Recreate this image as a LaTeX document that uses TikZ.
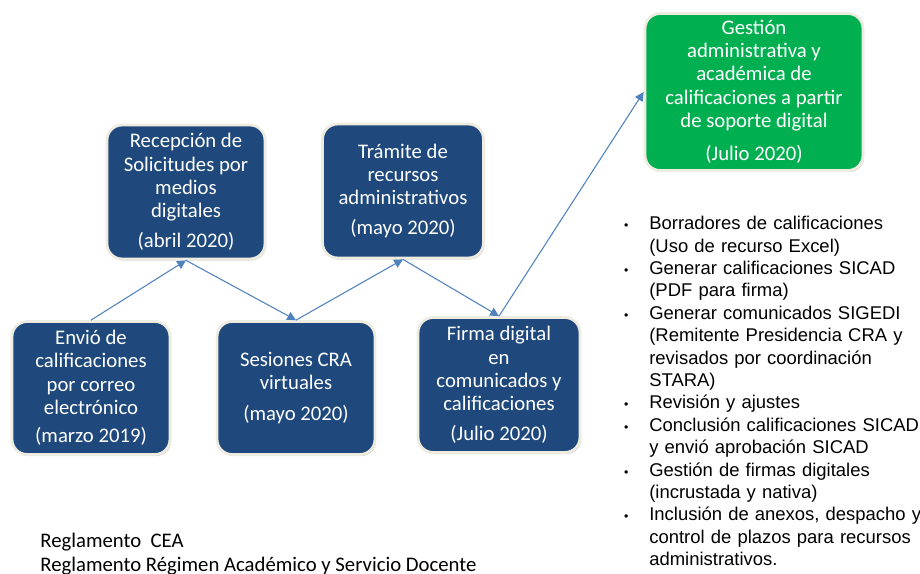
\documentclass[tikz,border=0pt]{standalone}
\usepackage{fontspec}
\setmainfont{Carlito}
\newfontfamily\listfont{Liberation Sans}
\usetikzlibrary{arrows.meta,shadows}
\definecolor{boxblue}{RGB}{31,73,125}
\definecolor{boxgreen}{RGB}{0,176,80}
\definecolor{rimcream}{RGB}{238,236,225}
\definecolor{linkblue}{RGB}{79,129,189}
\begin{document}
\begin{tikzpicture}[x=0.02cm,y=-0.02cm,
  stage/.style={rectangle,rounded corners=0.3cm,fill=boxblue,draw=rimcream,line width=1.6pt,
    text=white,align=center,font=\fontsize{11.8}{13.2}\selectfont,inner sep=2pt,
    drop shadow={shadow xshift=0.7pt,shadow yshift=-0.9pt,opacity=0.35}},
  link/.style={draw=linkblue,line width=0.6pt,-{Triangle[width=5pt,length=5pt]}}]
  \useasboundingbox (0,0) rectangle (920,574);
  % timeline boxes
  \node[stage,minimum width=3.16cm,minimum height=2.66cm] (envio) at (91,388)
    {Envió de\\calificaciones\\por correo\\electrónico\\[3pt](marzo 2019)};
  \node[stage,minimum width=3.16cm,minimum height=2.68cm] (recep) at (186,192)
    {Recepción de\\Solicitudes por\\medios\\digitales\\[4pt](abril 2020)};
  \node[stage,minimum width=3.16cm,minimum height=2.66cm] (sesion) at (296,388)
    {Sesiones CRA\\virtuales\\[4pt](mayo 2020)};
  \node[stage,minimum width=3.22cm,minimum height=2.68cm] (tramite) at (403,191)
    {Trámite de\\recursos\\administrativos\\[4pt](mayo 2020)};
  \node[stage,minimum width=3.24cm,minimum height=2.70cm] (firma) at (499,385)
    {Firma digital\\en\\comunicados y\\calificaciones\\[4pt](Julio 2020)};
  \node[stage,fill=boxgreen,minimum width=4.36cm,minimum height=3.14cm] (gestion) at (754,92)
    {Gestión\\administrativa y\\académica de\\calificaciones a partir\\de soporte digital\\[6pt](Julio 2020)};
  % connectors
  \draw[link] (envio.north) -- (recep.south);
  \draw[link] (recep.south) -- (sesion.north);
  \draw[link] (sesion.north) -- (tramite.south);
  \draw[link] (tramite.south) -- (firma.north);
  \draw[link] (firma.north) -- (gestion.west);
  % task list
  \node[anchor=north west,inner sep=0pt,text width=6.6cm,
    font=\listfont\fontsize{10.5}{12.75}\selectfont] (tareas) at (615,207) {%
    \begin{list}{{\fontsize{7}{7}\selectfont\textbullet}}{\setlength{\leftmargin}{0.68cm}%
      \setlength{\labelsep}{0.42cm}\setlength{\labelwidth}{0.2cm}\setlength{\itemsep}{0pt}%
      \setlength{\parsep}{0pt}\setlength{\topsep}{0pt}\setlength{\partopsep}{0pt}}
    \item Borradores de calificaciones\\(Uso de recurso Excel)
    \item Generar calificaciones SICAD\\(PDF para firma)
    \item Generar comunicados SIGEDI\\(Remitente Presidencia CRA y\\revisados por coordinación\\STARA)
    \item Revisión y ajustes
    \item Conclusión calificaciones SICAD\\y envió aprobación SICAD
    \item Gestión de firmas digitales\\(incrustada y nativa)
    \item Inclusión de anexos, despacho y\\control de plazos para recursos\\administrativos.
    \end{list}};
  % regulations
  \node[anchor=north west,align=left,inner sep=0pt,font=\fontsize{11.8}{13.8}\selectfont]
    (normas) at (40,533) {Reglamento\ \ CEA\\Reglamento Régimen Académico y Servicio Docente};
\end{tikzpicture}
\end{document}
